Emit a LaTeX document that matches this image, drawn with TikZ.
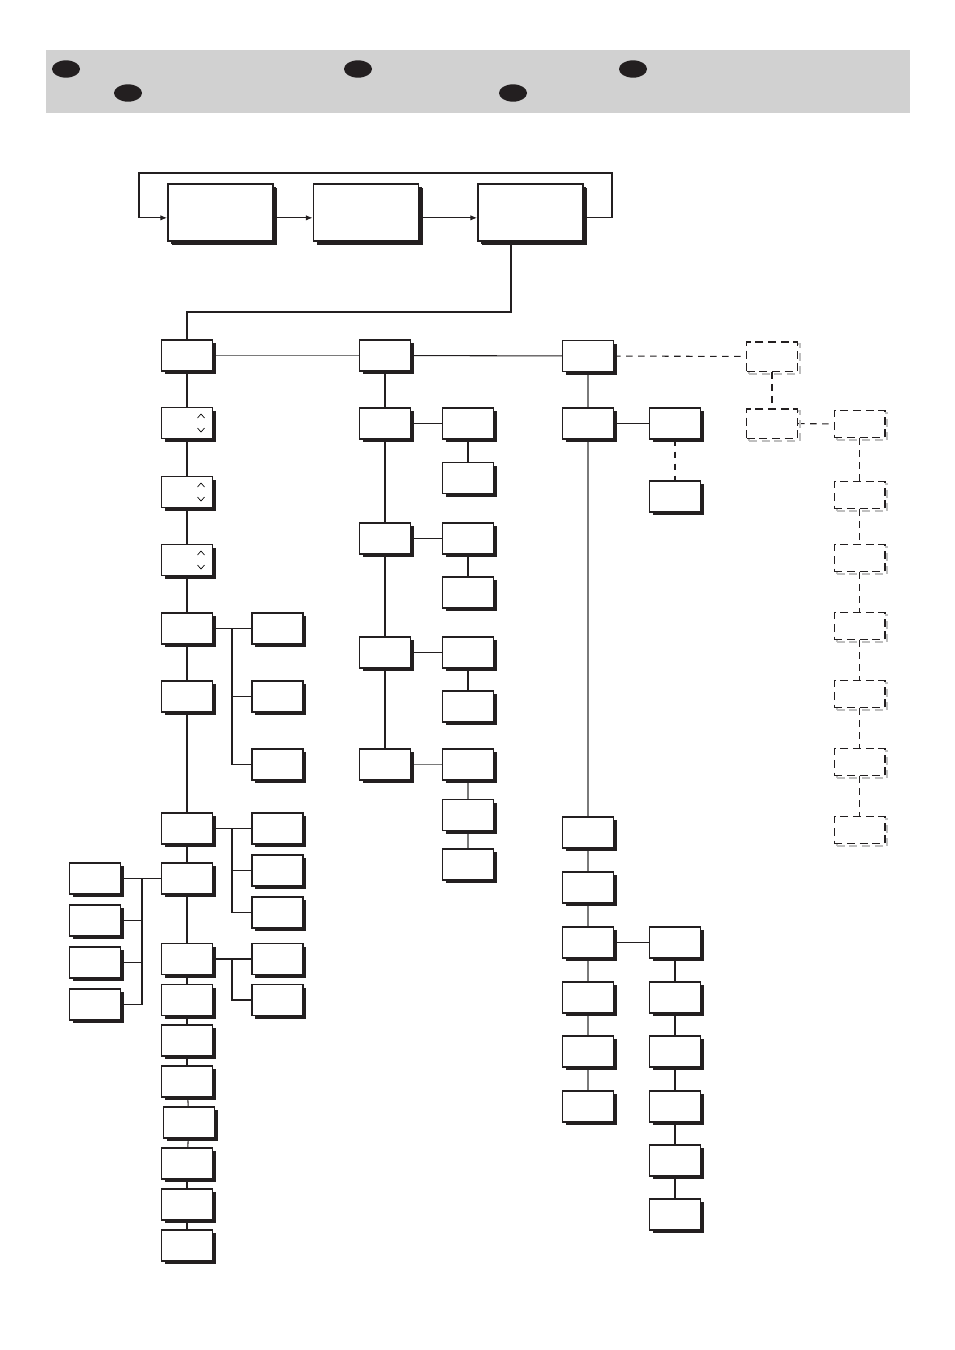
\documentclass[tikz,border=0pt]{standalone}
\usepackage{tikz}
\usetikzlibrary{arrows.meta,positioning,backgrounds,shadows}
\definecolor{HeadGray}{HTML}{D1D1D1}
\definecolor{DotBlack}{HTML}{231F20}
\definecolor{LinkGray}{HTML}{7A7A7A}
\begin{document}
\begin{tikzpicture}[x=0.75pt,y=-0.75pt,
  box/.style={draw=DotBlack,line width=1.1pt,fill=white,minimum width=38pt,minimum height=23pt,inner sep=0pt,
    drop shadow={shadow xshift=2.4pt,shadow yshift=-2.4pt,opacity=1,fill=DotBlack}},
  bigbox/.style={box,minimum width=79pt,minimum height=43pt,
    drop shadow={shadow xshift=3pt,shadow yshift=-3pt,opacity=1,fill=DotBlack}},
  dbox/.style={draw=DotBlack,dash pattern=on 6pt off 3.5pt,line width=1pt,fill=white,minimum width=38pt,minimum height=20pt,inner sep=0pt,
    drop shadow={shadow xshift=1.8pt,shadow yshift=-1.8pt,opacity=1,fill=none,draw=black!25,dash pattern=on 6pt off 3.5pt,line width=1.5pt}},
  link/.style={draw=DotBlack,line width=0.8pt},
  glink/.style={draw=LinkGray,line width=0.9pt},
  dlink/.style={draw=DotBlack,line width=0.8pt,dash pattern=on 5pt off 4pt},
  arw/.style={link,-{Latex[length=5pt,width=4pt]}}]
\useasboundingbox (0,0) rectangle (954,1350);
% header strip
\fill[HeadGray] (46,50) rectangle (910,113);
\foreach \x/\y in {66/69,128/93,358/69,513/93,633/69}
  \fill[DotBlack] (\x,\y) ellipse (10.5pt and 6.5pt);
% top row
\node[bigbox] (T1) at (220.5,212.5) {};
\node[bigbox] (T2) at (366,212.5) {};
\node[bigbox] (T3) at (530.5,212.5) {};
\coordinate (lpR) at (612,173);
\coordinate (lpL) at (139,173);
\coordinate (tb) at (511,312);
% left column
\node[box] (A1) at (187,355.5) {};
\node[box] (A2) at (187,423) {};
\node[box] (A3) at (187,492) {};
\node[box] (A4) at (187,560) {};
\node[box] (A5) at (187,628.5) {};
\node[box] (A6) at (187,696.5) {};
\node[box] (A7) at (187,828.5) {};
\node[box] (A8) at (187,878.5) {};
\node[box] (A9) at (187,959) {};
\node[box] (A10) at (187,1000) {};
\node[box] (A11) at (187,1040.5) {};
\node[box] (A12) at (187,1081.5) {};
\node[box] (A13) at (189,1122.5) {};
\node[box] (A14) at (187,1163.5) {};
\node[box] (A15) at (187,1204.5) {};
\node[box] (A16) at (187,1245.5) {};
\foreach \n in {A2,A3,A4}{
  \draw[line width=0.5pt] ([shift={(10.5,-5)}]\n.center) -- ++(3.5,-4) -- ++(3.5,4);
  \draw[line width=0.5pt] ([shift={(10.5,5)}]\n.center) -- ++(3.5,4) -- ++(3.5,-4);
}
\node[box] (B1) at (277.5,628.5) {};
\node[box] (B2) at (277.5,696.5) {};
\node[box] (B3) at (277.5,764.5) {};
\node[box] (C1) at (277.5,828.5) {};
\node[box] (C2) at (277.5,870.5) {};
\node[box] (C3) at (277.5,912.5) {};
\node[box] (D1) at (277.5,959) {};
\node[box] (D2) at (277.5,1000) {};
\node[box] (E1) at (95,878.5) {};
\node[box] (E2) at (95,920.5) {};
\node[box] (E3) at (95,962.5) {};
\node[box] (E4) at (95,1004.5) {};
\coordinate (bb) at (232,628.5);
\coordinate (cb) at (232,828.5);
\coordinate (db) at (232,959);
\coordinate (eb) at (142,878.5);
% middle column
\node[box] (M1) at (385,355.5) {};
\node[box] (M2) at (385,423.5) {};
\node[box] (M3) at (385,538.5) {};
\node[box] (M4) at (385,652.5) {};
\node[box] (M5) at (385,764.5) {};
\node[box] (M2r) at (468,423.5) {};
\node[box] (M2s) at (468,478) {};
\node[box] (M3r) at (468,538.5) {};
\node[box] (M3s) at (468,592.5) {};
\node[box] (M4r) at (468,652.5) {};
\node[box] (M4s) at (468,706.5) {};
\node[box] (M5r) at (468,764.5) {};
\node[box] (M5s) at (468,815) {};
\node[box] (M5t) at (468,864.5) {};
% right column
\node[box] (N1) at (588,356) {};
\node[box] (N2) at (588,423.5) {};
\node[box] (N3) at (588,832.5) {};
\node[box] (N4) at (588,887.5) {};
\node[box] (N5) at (588,942.5) {};
\node[box] (N6) at (588,997.5) {};
\node[box] (N7) at (588,1051.5) {};
\node[box] (N8) at (588,1106.5) {};
\node[box] (R1) at (675,423.5) {};
\node[box] (R2) at (675,496.5) {};
\node[box] (R3) at (675,942.5) {};
\node[box] (R4) at (675,997.5) {};
\node[box] (R5) at (675,1051.5) {};
\node[box] (R6) at (675,1106.5) {};
\node[box] (R7) at (675,1160.5) {};
\node[box] (R8) at (675,1214.5) {};
% dashed branch
\node[dbox,minimum height=22pt] (X1) at (772,356.5) {};
\node[dbox,minimum height=22pt] (X2) at (772,423.5) {};
\node[dbox] (Y1) at (859.5,424) {};
\node[dbox] (Y2) at (859.5,495) {};
\node[dbox] (Y3) at (859.5,558) {};
\node[dbox] (Y4) at (859.5,626) {};
\node[dbox] (Y5) at (859.5,694) {};
\node[dbox] (Y6) at (859.5,762) {};
\node[dbox] (Y7) at (859.5,830) {};
\begin{scope}[on background layer]
\draw[arw] ([yshift=-4pt]T1.east) -- ([yshift=-4pt]T2.west);
\draw[arw] ([yshift=-4pt]T2.east) -- ([yshift=-4pt]T3.west);
\draw[arw] ([yshift=-4pt]T3.east) -| (lpR) -- (lpL) |- ([yshift=-4pt]T1.west);
\draw[link] (T3.south -| tb) -- (tb) -| (A1.north);
\foreach \a/\b in {A1/A2,A2/A3,A3/A4,A4/A5,A5/A6,A6/A7,A7/A8,A8/A9,A9/A10,A10/A11,A11/A12,A12/A13,A13/A14,A14/A15,A15/A16}
  \draw[link] (\a) -- (\b);
\draw[link] (A5) -- (B1);
\draw[link] (bb) |- (B2.west);
\draw[link] (bb) |- (B3.west);
\draw[link] (A7) -- (C1);
\draw[link] (cb) |- (C2.west);
\draw[link] (cb) |- (C3.west);
\draw[link] (A9) -- (D1);
\draw[link] (db) |- (D2.west);
\draw[link] (A8) -- (E1);
\draw[link] (eb) |- (E2.east);
\draw[link] (eb) |- (E3.east);
\draw[link] (eb) |- (E4.east);
\draw[glink] (A1) -- (M1);
\draw[link] (M1) -- (N1);
\foreach \a/\b in {M1/M2,M2/M3,M3/M4,M4/M5,M2/M2r,M2r/M2s,M3/M3r,M3r/M3s,M4/M4r,M4r/M4s}
  \draw[link] (\a) -- (\b);
\foreach \a/\b in {M5/M5r,M5r/M5s,M5s/M5t}
  \draw[glink] (\a) -- (\b);
\foreach \a/\b in {N1/N2,N2/N3,N3/N4,N4/N5,N5/N6,N6/N7,N7/N8}
  \draw[glink] (\a) -- (\b);
\foreach \a/\b in {N2/R1,N5/R3,R3/R4,R4/R5,R5/R6,R6/R7,R7/R8}
  \draw[link] (\a) -- (\b);
\draw[dlink] (R1) -- (R2);
\draw[dlink] (N1) -- (X1);
\foreach \a/\b in {X1/X2,X2/Y1,Y1/Y2,Y2/Y3,Y3/Y4,Y4/Y5,Y5/Y6,Y6/Y7}
  \draw[dlink] (\a) -- (\b);
\end{scope}
\end{tikzpicture}
\end{document}
